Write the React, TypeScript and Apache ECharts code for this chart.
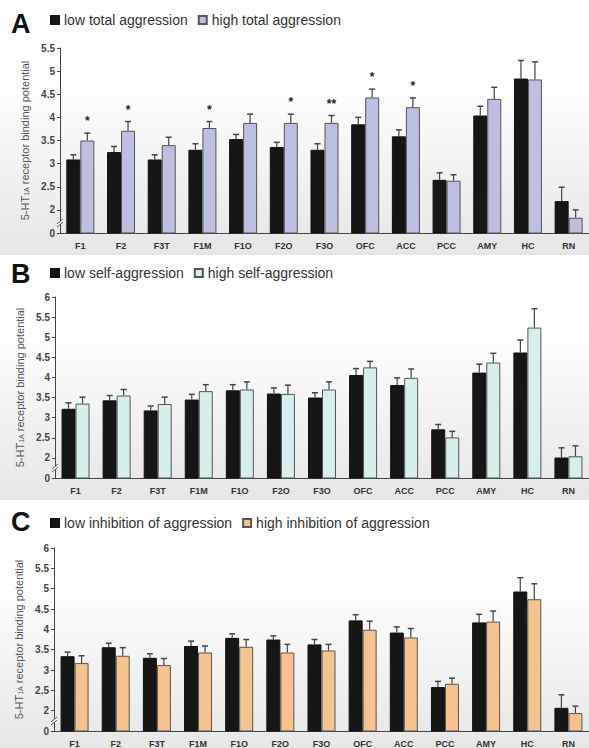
import React, { useEffect, useRef } from "react";
import * as echarts from "echarts";

const categories = ["F1", "F2", "F3T", "F1M", "F1O", "F2O", "F3O", "OFC", "ACC", "PCC", "AMY", "HC", "RN"];

// Panel A: total aggression
const aLow = [3.09, 3.25, 3.09, 3.3, 3.53, 3.36, 3.3, 3.85, 3.59, 2.65, 4.04, 4.84, 2.19];
const aLowSem = [0.1, 0.12, 0.1, 0.13, 0.1, 0.1, 0.13, 0.15, 0.14, 0.15, 0.2, 0.39, 0.3];
const aHigh = [3.5, 3.71, 3.4, 3.77, 3.88, 3.88, 3.88, 4.43, 4.22, 2.63, 4.4, 4.82, 1.83];
const aHighSem = [0.16, 0.2, 0.17, 0.14, 0.19, 0.19, 0.16, 0.18, 0.2, 0.13, 0.25, 0.38, 0.17];
const aStars = ["*", "*", "", "*", "", "*", "**", "*", "*", "", "", "", ""];

// Panel B: self-aggression
const bLow = [3.22, 3.43, 3.18, 3.45, 3.68, 3.6, 3.5, 4.06, 3.81, 2.71, 4.12, 4.62, 2.01];
const bLowSem = [0.15, 0.12, 0.11, 0.13, 0.14, 0.14, 0.12, 0.16, 0.18, 0.12, 0.21, 0.31, 0.24];
const bHigh = [3.35, 3.55, 3.34, 3.66, 3.7, 3.59, 3.7, 4.25, 3.99, 2.51, 4.37, 5.24, 2.04];
const bHighSem = [0.16, 0.15, 0.17, 0.16, 0.19, 0.22, 0.19, 0.15, 0.22, 0.15, 0.23, 0.47, 0.26];

// Panel C: inhibition of aggression
const cLow = [3.34, 3.56, 3.3, 3.59, 3.79, 3.75, 3.63, 4.22, 3.92, 2.58, 4.17, 4.93, 2.07];
const cLowSem = [0.1, 0.1, 0.1, 0.12, 0.1, 0.09, 0.12, 0.14, 0.14, 0.14, 0.2, 0.34, 0.32];
const cHigh = [3.17, 3.35, 3.12, 3.43, 3.57, 3.43, 3.48, 3.99, 3.8, 2.66, 4.19, 4.74, 1.94];
const cHighSem = [0.18, 0.2, 0.16, 0.16, 0.18, 0.2, 0.15, 0.21, 0.22, 0.14, 0.26, 0.38, 0.17];

// y-axis: the break maps "0" to the 1.5 position
const yTicksMaxA = 5.5;
const yTicksMaxBC = 6;
const yBreakValue = 1.5;

const FONT = 'Arial, "Liberation Sans", Helvetica, sans-serif';

const panels = [
  {
    letter: "A",
    lowName: "low total aggression",
    highName: "high total aggression",
    low: aLow, lowSem: aLowSem, high: aHigh, highSem: aHighSem, stars: aStars,
    highColor: "#bcbfe2",
    max: yTicksMaxA,
    grid: { left: 60, top: 48, width: 537, height: 185 },
    legendTop: 13, letterY: 24, nameGap: 27,
  },
  {
    letter: "B",
    lowName: "low self-aggression",
    highName: "high self-aggression",
    low: bLow, lowSem: bLowSem, high: bHigh, highSem: bHighSem, stars: null as string[] | null,
    highColor: "#d6eeec",
    max: yTicksMaxBC,
    grid: { left: 55, top: 297, width: 542, height: 181 },
    legendTop: 266, letterY: 274, nameGap: 22,
  },
  {
    letter: "C",
    lowName: "low inhibition of aggression",
    highName: "high inhibition of aggression",
    low: cLow, lowSem: cLowSem, high: cHigh, highSem: cHighSem, stars: null as string[] | null,
    highColor: "#f4c390",
    max: yTicksMaxBC,
    grid: { left: 54, top: 548, width: 543, height: 183 },
    legendTop: 516, letterY: 522, nameGap: 21,
  },
];

function errSeries(p: number, vals: number[], sems: number[], side: number, stars: string[] | null) {
  return {
    type: "custom",
    xAxisIndex: p,
    yAxisIndex: p,
    z: 5,
    silent: true,
    data: vals.map((v, i) => [i, v, v + sems[i]]),
    renderItem: (params: any, api: any) => {
      const i = api.value(0);
      const v = api.value(1);
      const t = api.value(2);
      const b = api.coord([i, v]);
      const tp = api.coord([i, t]);
      const x = b[0] + side * 7;
      const children: any[] = [
        { type: "line", shape: { x1: x, y1: b[1], x2: x, y2: tp[1] }, style: { stroke: "#444", lineWidth: 1.2 } },
        { type: "line", shape: { x1: x - 3, y1: tp[1], x2: x + 3, y2: tp[1] }, style: { stroke: "#444", lineWidth: 1.5 } },
      ];
      const s = stars ? stars[params.dataIndex] : "";
      if (s) {
        children.push({
          type: "text",
          style: {
            text: s, x, y: tp[1] - 6, align: "center", verticalAlign: "bottom",
            font: `bold 12px ${FONT}`, fill: "#222",
          },
        });
      }
      return { type: "group", children };
    },
  };
}

export default function App() {
  const ref = useRef<HTMLDivElement>(null);
  useEffect(() => {
    document.body.style.margin = "0";
    const chart = echarts.init(ref.current!, null, { renderer: "svg" });
    const grids: any[] = [];
    const xAxes: any[] = [];
    const yAxes: any[] = [];
    const series: any[] = [];
    const legends: any[] = [];
    const graphics: any[] = [];

    panels.forEach((pn, p) => {
      grids.push({ ...pn.grid });
      xAxes.push({
        type: "category",
        gridIndex: p,
        data: categories,
        axisLine: { lineStyle: { color: "#444", width: 1 } },
        axisTick: { length: 3, lineStyle: { color: "#444" } },
        axisLabel: { fontSize: 9, fontWeight: "bold", color: "#333", margin: 8, fontFamily: FONT, interval: 0 },
      });
      yAxes.push({
        type: "value",
        gridIndex: p,
        min: yBreakValue,
        max: pn.max,
        interval: 0.5,
        splitLine: { show: false },
        axisLine: { show: true, lineStyle: { color: "#444", width: 1 } },
        axisTick: { show: true, length: 3, lineStyle: { color: "#444" } },
        axisLabel: {
          fontSize: 10, fontWeight: "bold", color: "#444", margin: 5, fontFamily: FONT,
          formatter: (v: number) => (v === yBreakValue ? "0" : String(v)),
        },
        name: "5-HT{sub|1A} receptor binding potential",
        nameLocation: "middle",
        nameGap: pn.nameGap,
        nameTextStyle: {
          fontSize: 11, color: "#555", fontFamily: FONT,
          rich: { sub: { fontSize: 7, color: "#555", fontFamily: FONT, padding: [4, 0, 0, 0] } },
        },
      });
      series.push({
        name: pn.lowName,
        type: "bar",
        xAxisIndex: p,
        yAxisIndex: p,
        data: pn.low,
        barWidth: 14,
        barGap: "0%",
        itemStyle: { color: "#161616", borderColor: "#111", borderWidth: 1 },
      });
      series.push({
        name: pn.highName,
        type: "bar",
        xAxisIndex: p,
        yAxisIndex: p,
        data: pn.high,
        barWidth: 14,
        barGap: "0%",
        itemStyle: { color: pn.highColor, borderColor: "#555", borderWidth: 1 },
      });
      series.push(errSeries(p, pn.low, pn.lowSem, -1, null));
      series.push(errSeries(p, pn.high, pn.highSem, 1, pn.stars));
      legends.push({
        data: [pn.lowName, pn.highName],
        left: 50,
        top: pn.legendTop,
        padding: 0,
        icon: "rect",
        itemWidth: 8,
        itemHeight: 8,
        itemGap: 10,
        textStyle: { fontSize: 14, color: "#333", fontFamily: FONT },
        selectedMode: false,
      });
      const g = pn.grid;
      const bottom = g.top + g.height;
      graphics.push({
        type: "rect",
        z: -10,
        silent: true,
        shape: { x: 0, y: g.top + 30, width: 589, height: g.height - 8 },
        style: {
          fill: new echarts.graphic.LinearGradient(0, 0, 0, 1, [
            { offset: 0, color: "#ffffff" },
            { offset: 1, color: "#e6e6e6" },
          ]),
        },
      });
      graphics.push({
        type: "text",
        z: 10,
        style: {
          text: pn.letter, x: 11, y: pn.letterY, verticalAlign: "middle",
          font: `bold 27px ${FONT}`, fill: "#111",
        },
      });
      // axis break marks
      const bx = g.left;
      const by = bottom - 11;
      graphics.push({
        type: "polygon",
        z: 20,
        silent: true,
        shape: { points: [[bx - 3, by + 2], [bx + 3, by - 3], [bx + 3, by], [bx - 3, by + 5]] },
        style: { fill: "#ffffff" },
      });
      graphics.push({
        type: "line", z: 21, silent: true,
        shape: { x1: bx - 3, y1: by + 2, x2: bx + 3, y2: by - 3 },
        style: { stroke: "#555", lineWidth: 1 },
      });
      graphics.push({
        type: "line", z: 21, silent: true,
        shape: { x1: bx - 3, y1: by + 5, x2: bx + 3, y2: by },
        style: { stroke: "#555", lineWidth: 1 },
      });
    });

    chart.setOption({
      animation: false,
      backgroundColor: "#ffffff",
      textStyle: { fontFamily: FONT },
      grid: grids,
      xAxis: xAxes,
      yAxis: yAxes,
      legend: legends,
      series,
      graphic: graphics,
    });
    return () => chart.dispose();
  }, []);
  return <div ref={ref} style={{ width: 589, height: 748 }} />;
}
